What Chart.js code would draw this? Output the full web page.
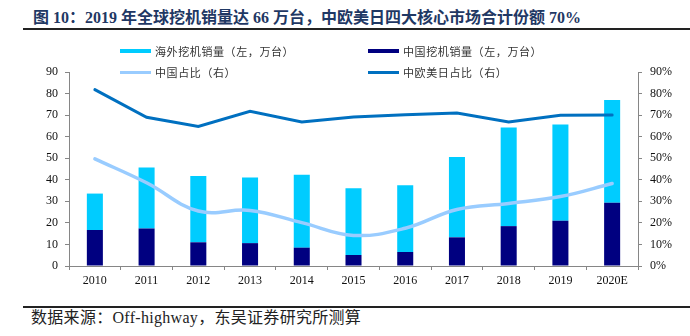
<!DOCTYPE html>
<html>
<head>
<meta charset="utf-8">
<script src="https://cdn.jsdelivr.net/npm/chart.js@4/dist/chart.umd.min.js"></script>
<style>
  body { margin: 0; background: #fff; width: 690px; height: 336px; position: relative; overflow: hidden; }
  #titulo { position: absolute; left: 33px; top: 4px; font: bold 16px "Liberation Serif", "Noto Sans CJK SC", serif; color: #1f3864; white-space: nowrap; }
  .regla { position: absolute; left: 23px; width: 667px; height: 2px; background: #222; }
  #fuente { position: absolute; left: 31px; top: 309px; font: 16px "Liberation Serif", "Noto Sans CJK SC", serif; line-height: 18px; letter-spacing: 0.3px; color: #222; white-space: nowrap; }
  #caja { position: absolute; left: 0; top: 40px; width: 690px; height: 258px; }
  .leyenda { position: absolute; font: 11px "Noto Sans CJK SC", sans-serif; color: #333; white-space: nowrap; line-height: 14px; letter-spacing: 0.6px; }
  .muestra { position: absolute; width: 31px; }
</style>
</head>
<body>
<div id="titulo">图 10：2019 年全球挖机销量达 66 万台，中欧美日四大核心市场合计份额 70%</div>
<div class="regla" style="top:28px"></div>
<div id="caja"><canvas id="myChart"></canvas></div>
<div id="leyendas"></div>
<div class="regla" style="top:306px"></div>
<div id="fuente">数据来源：Off-highway，东吴证券研究所测算</div>
<script>
const anios = ['2010', '2011', '2012', '2013', '2014', '2015', '2016', '2017', '2018', '2019', '2020E'];
const ventasChina = [16.7, 17.4, 11.0, 10.6, 8.5, 5.1, 6.5, 13.3, 18.5, 21.0, 29.3];
const ventasExterior = [16.9, 28.3, 30.7, 30.4, 33.8, 31.0, 31.0, 37.3, 45.7, 44.7, 47.7];
const cuotaChina = [49.7, 38.6, 25.5, 25.8, 20.1, 14.2, 17.5, 26.2, 29.0, 32.2, 38.3];
const cuotaCuatro = [81.8, 69.0, 64.7, 71.8, 66.8, 69.1, 70.2, 71.0, 66.8, 69.9, 70.1];
const ticksIzq = [0, 10, 20, 30, 40, 50, 60, 70, 80, 90];

const colores = {
    exterior: '#00ccff',
    china: '#000080',
    cuotaChina: '#99ccff',
    cuotaCuatro: '#0070c0'
};

// leyenda en html, dos columnas
const leyendas = [
    { texto: '海外挖机销量（左，万台）', color: colores.exterior, alto: 4, x: 120, y: 51 },
    { texto: '中国挖机销量（左，万台）', color: colores.china, alto: 4, x: 368, y: 51 },
    { texto: '中国占比（右）', color: colores.cuotaChina, alto: 3, x: 120, y: 72 },
    { texto: '中欧美日占比（右）', color: colores.cuotaCuatro, alto: 3, x: 368, y: 72 }
];
const leyendasDiv = document.getElementById('leyendas');
leyendas.forEach(l => {
    const m = document.createElement('div');
    m.className = 'muestra';
    m.style.left = l.x + 'px';
    m.style.top = (l.y - l.alto / 2) + 'px';
    m.style.height = l.alto + 'px';
    m.style.background = l.color;
    leyendasDiv.appendChild(m);
    const t = document.createElement('div');
    t.className = 'leyenda';
    t.style.left = (l.x + 35) + 'px';
    t.style.top = (l.y - 7) + 'px';
    t.textContent = l.texto;
    leyendasDiv.appendChild(t);
});

const fuenteTicks = { family: '"Liberation Serif", serif', size: 12 };
const gris = '#868686';

new Chart(document.getElementById('myChart'), {
    type: 'bar',
    data: {
        labels: anios,
        datasets: [
            {
                label: '中国挖机销量（左，万台）',
                data: ventasChina,
                backgroundColor: colores.china,
                stack: 'ventas',
                yAxisID: 'y',
                order: 2,
                barPercentage: 0.31,
                categoryPercentage: 1
            },
            {
                label: '海外挖机销量（左，万台）',
                data: ventasExterior,
                backgroundColor: colores.exterior,
                stack: 'ventas',
                yAxisID: 'y',
                order: 2,
                barPercentage: 0.31,
                categoryPercentage: 1
            },
            {
                type: 'line',
                label: '中国占比（右）',
                data: cuotaChina,
                borderColor: colores.cuotaChina,
                borderWidth: 3.5,
                tension: 0.4,
                pointRadius: 0,
                borderCapStyle: 'round',
                yAxisID: 'y1',
                order: 1
            },
            {
                type: 'line',
                label: '中欧美日占比（右）',
                data: cuotaCuatro,
                borderColor: colores.cuotaCuatro,
                borderWidth: 3,
                tension: 0,
                pointRadius: 0,
                borderCapStyle: 'round',
                yAxisID: 'y1',
                order: 0
            }
        ]
    },
    options: {
        responsive: true,
        maintainAspectRatio: false,
        animation: false,
        layout: { padding: { top: 32, left: 0, right: 0, bottom: 0 } },
        plugins: {
            legend: { display: false },
            tooltip: { enabled: false }
        },
        scales: {
            x: {
                stacked: true,
                afterFit: (eje) => { eje.height = 32; },
                grid: { drawOnChartArea: false, offset: true, tickLength: 4, color: gris },
                border: { color: gris },
                ticks: { font: fuenteTicks, color: '#111', padding: 4, maxRotation: 0 }
            },
            y: {
                stacked: true,
                position: 'left',
                min: 0,
                max: 90,
                afterFit: (eje) => { eje.width = 69; },
                afterBuildTicks: (eje) => { eje.ticks = ticksIzq.map(v => ({ value: v })); },
                grid: { drawOnChartArea: false, tickLength: 4, color: gris },
                border: { color: gris },
                ticks: { font: fuenteTicks, color: '#111', padding: 7 }
            },
            y1: {
                position: 'right',
                min: 0,
                max: 90,
                afterFit: (eje) => { eje.width = 52; },
                grid: { drawOnChartArea: false, tickLength: 4, color: gris },
                border: { color: gris },
                ticks: { stepSize: 10, font: fuenteTicks, color: '#111', padding: 8, callback: v => v + '%' }
            }
        }
    }
});
</script>
</body>
</html>
